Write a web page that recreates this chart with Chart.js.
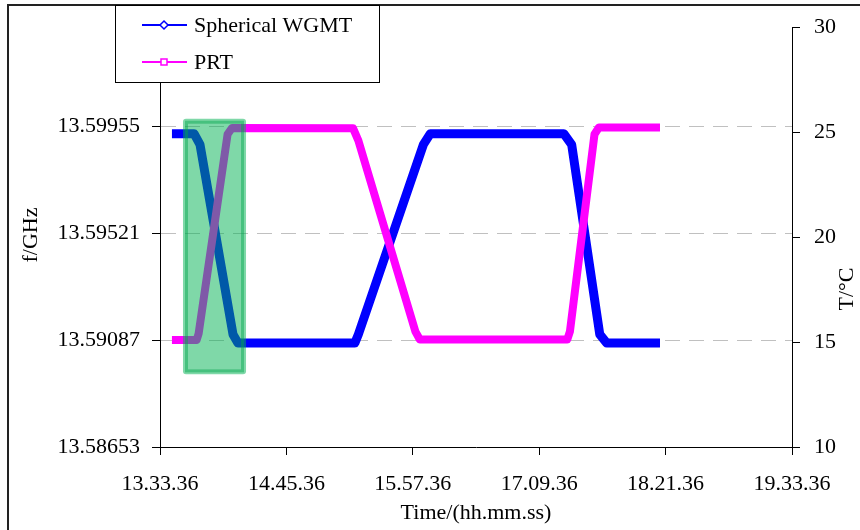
<!DOCTYPE html>
<html>
<head>
<meta charset="utf-8">
<script src="https://cdn.jsdelivr.net/npm/chart.js@4/dist/chart.umd.min.js"></script>
<style>
  body { margin: 0; background: #fff; }
  #wrap { width: 860px; height: 530px; position: relative; }
</style>
</head>
<body>
<div id="wrap"><canvas id="chart"></canvas></div>
<script>
// time in minutes after 13.33.36
const timeTicks = [0, 72, 144, 216, 288, 360];
const timeLabels = ['13.33.36', '14.45.36', '15.57.36', '17.09.36', '18.21.36', '19.33.36'];
const freqTicks = [13.58653, 13.59087, 13.59521, 13.59955];
const tempTicks = [10, 15, 20, 25, 30];

// Spherical WGMT resonance frequency (GHz)
const wgmtTime = [6.8, 19.4, 22.8, 41.6, 44.4, 111, 113, 150, 154, 230, 234.5, 250.5, 254.5, 284.8];
const wgmtFreq = [13.59925, 13.59925, 13.5988, 13.5911, 13.59075, 13.59075, 13.5911, 13.5988, 13.59925,
                  13.59925, 13.5988, 13.5911, 13.59075, 13.59075];

// PRT temperature (°C)
const prtTime = [6.8, 20.9, 22, 38.5, 41, 110, 113, 145.5, 148, 232, 233.5, 247.5, 250, 284.8];
const prtTemp = [15.1, 15.1, 15.4, 24.9, 25.2, 25.18, 24.6, 15.5, 15.12, 15.12, 15.5, 24.9, 25.22, 25.22];

// marked region (minutes, °C)
const highlight = { from: 13.1, to: 49, low: 13.46, high: 25.64 };

const pts = (xs, ys) => xs.map((x, i) => ({ x: x, y: ys[i] }));

Chart.defaults.font.family = "'Liberation Serif', 'Times New Roman', serif";
Chart.defaults.font.size = 22;
Chart.defaults.color = '#000';

const extras = {
  id: 'extras',
  afterDatasetsDraw(chart) {
    const { ctx, scales } = chart;
    const x0 = scales.x.getPixelForValue(highlight.from);
    const x1 = scales.x.getPixelForValue(highlight.to);
    const y0 = scales.yT.getPixelForValue(highlight.high);
    const y1 = scales.yT.getPixelForValue(highlight.low);
    ctx.save();
    ctx.fillStyle = 'rgba(0,177,81,0.5)';
    ctx.beginPath();
    ctx.roundRect(x0, y0, x1 - x0, y1 - y0, 3);
    ctx.fill();
    ctx.strokeStyle = 'rgba(0,165,75,0.45)';
    ctx.lineWidth = 3;
    ctx.strokeRect(x0 + 3.5, y0 + 3.5, x1 - x0 - 7, y1 - y0 - 7);
    ctx.restore();
  },
  afterDraw(chart) {
    const { ctx } = chart;
    ctx.save();
    // outer frame
    ctx.strokeStyle = '#222';
    ctx.lineWidth = 2;
    ctx.strokeRect(8, 5, 900, 600);

    // axis titles
    ctx.fillStyle = '#000';
    ctx.font = "22px 'Liberation Serif'";
    ctx.textAlign = 'center';
    ctx.textBaseline = 'middle';
    ctx.save();
    ctx.translate(31, 235);
    ctx.rotate(-Math.PI / 2);
    ctx.fillText('f/GHz', 0, 0);
    ctx.restore();
    ctx.save();
    ctx.translate(847, 289);
    ctx.rotate(-Math.PI / 2);
    ctx.fillText('T/°C', 0, 0);
    ctx.restore();

    // legend
    ctx.fillStyle = '#fff';
    ctx.fillRect(115, 5, 264, 77);
    ctx.strokeStyle = '#000';
    ctx.lineWidth = 1;
    ctx.strokeRect(115.5, 5.5, 264, 77);
    const items = [
      { label: 'Spherical WGMT', color: '#0000ff', marker: 'diamond', y: 25 },
      { label: 'PRT', color: '#ff00ff', marker: 'square', y: 62 }
    ];
    items.forEach(it => {
      ctx.strokeStyle = it.color;
      ctx.lineWidth = 2;
      ctx.beginPath();
      ctx.moveTo(142, it.y);
      ctx.lineTo(187, it.y);
      ctx.stroke();
      ctx.fillStyle = '#fff';
      ctx.lineWidth = 1.5;
      ctx.beginPath();
      if (it.marker === 'diamond') {
        ctx.moveTo(164, it.y - 4);
        ctx.lineTo(168, it.y);
        ctx.lineTo(164, it.y + 4);
        ctx.lineTo(160, it.y);
        ctx.closePath();
      } else {
        ctx.rect(161, it.y - 3, 6, 6);
      }
      ctx.fill();
      ctx.stroke();
      ctx.fillStyle = '#000';
      ctx.textAlign = 'left';
      ctx.fillText(it.label, 194, it.y + 1);
    });
    ctx.restore();
  }
};

new Chart(document.getElementById('chart'), {
  type: 'line',
  data: {
    datasets: [{
      label: 'PRT',
      data: pts(prtTime, prtTemp),
      yAxisID: 'yT',
      borderColor: '#ff00ff',
      borderWidth: 8,
      pointRadius: 0,
      borderJoinStyle: 'round',
      tension: 0
    }, {
      label: 'Spherical WGMT',
      data: pts(wgmtTime, wgmtFreq),
      yAxisID: 'yF',
      borderColor: '#0000ff',
      borderWidth: 9,
      pointRadius: 0,
      borderJoinStyle: 'round',
      tension: 0
    }]
  },
  options: {
    responsive: true,
    maintainAspectRatio: false,
    animation: false,
    layout: { padding: { top: 17, left: 0, right: 0, bottom: 0 } },
    plugins: { legend: { display: false }, tooltip: { enabled: false } },
    scales: {
      x: {
        type: 'linear',
        min: 0,
        max: 360,
        afterBuildTicks: s => { s.ticks = timeTicks.map(v => ({ value: v })); },
        afterFit: s => { s.height = 83; },
        ticks: {
          autoSkip: false,
          maxRotation: 0,
          padding: 16,
          callback: (v, i) => timeLabels[i]
        },
        grid: { drawOnChartArea: false, tickLength: 8, color: '#000' },
        border: { display: true, color: '#000', width: 1 },
        title: { display: true, text: 'Time/(hh.mm.ss)', padding: { top: 0, bottom: 4 } }
      },
      yF: {
        type: 'linear',
        position: 'left',
        min: 13.58653,
        max: 13.60357,
        afterBuildTicks: s => { s.ticks = freqTicks.map(v => ({ value: v })); },
        afterFit: s => { s.width = 160; },
        ticks: { padding: 12, callback: v => v.toFixed(5) },
        grid: {
          tickLength: 8,
          color: c => (c.index === 0 ? 'rgba(0,0,0,0)' : '#c0c0c0'),
          tickColor: '#000'
        },
        border: { display: true, color: '#000', width: 1, dash: [15, 9] }
      },
      yT: {
        type: 'linear',
        position: 'right',
        min: 10,
        max: 30,
        afterBuildTicks: s => { s.ticks = tempTicks.map(v => ({ value: v })); },
        afterFit: s => { s.width = 68; },
        ticks: { padding: 14 },
        grid: { drawOnChartArea: false, tickLength: 8, color: '#000' },
        border: { display: true, color: '#000', width: 1 }
      }
    }
  },
  plugins: [extras]
});
</script>
</body>
</html>
